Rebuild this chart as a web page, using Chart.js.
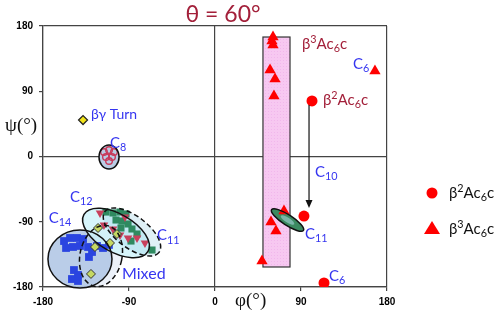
<!DOCTYPE html>
<html><head><meta charset="utf-8">
<script src="https://cdn.jsdelivr.net/npm/chart.js@4/dist/chart.umd.min.js"></script>
<style>html,body{margin:0;padding:0;background:#fff;}</style>
</head><body>
<canvas id="c" width="500" height="312"></canvas>
<script>
// ---- data (phi, psi in degrees) ----
const tickValues = [-180, -90, 0, 90, 180];
const beta2Ac6c = [[101.5, 76.6], [93.1, -82.1], [114.1, -174.5]];
const beta3Ac6c = [[60.7, 164.8], [59.6, 159.3], [60.7, 153.8], [57.6, 119.3], [62.8, 106.9], [61.7, 83.4],
                   [167.4, 117.9], [72.2, -75.2], [58.6, -90.3], [63.8, -102.8], [49.2, -144.1]];
const c14Squares = [[-158, -116.6], [-151.7, -112.4], [-144.4, -112.4], [-138.1, -113.8], [-155.9, -126.2],
                    [-148.6, -124.8], [-141.3, -123.4], [-132.9, -124.8], [-128.7, -131.7], [-131.9, -138.6],
                    [-147.6, -156.6], [-143.4, -163.4], [-149.7, -169], [-143.4, -171.7],
                    [-123.5, -123.4], [-117.2, -126.2], [-111, -122]];
const c11Squares = [[-114.1, -76.6], [-106.7, -77.9], [-99.4, -76.6], [-93.1, -79.3], [-103.6, -87.6],
                    [-97.3, -89], [-91, -93.1], [-86.9, -100], [-98.4, -98.6], [-87.9, -116.6],
                    [-65.9, -129], [-81.6, -106.9]];
const c12Triangles = [[-120.3, -78], [-116.2, -94.5], [-106.7, -100], [-99.4, -108.3], [-91, -112.4],
                      [-81.6, -112.4], [-73.3, -119.3], [-94.2, -83.4]];
const mixedDiamonds = [[-122.4, -98.6], [-102.6, -106.9], [-109.9, -119.3], [-125.6, -124.8], [-129.8, -162]];
const betaGammaTurn = [[-138.1, 50.3]];
const c8Circles = [[-116.2, 6.2], [-110.9, 9], [-105.7, 6.2], [-114.1, -0.7], [-107.8, -0.7], [-110.9, -6.2]];
// regions
const boxPhi = [50.2, 78.5];
const boxPsi = [-152.4, 164.8];
const arrowPhi = 98.4;
const arrowPsi = [71, -71];
const ellipseNames = ['C14', 'Mixed', 'C12', 'C11', 'C8', 'C11b'];
const ellipseCenters = [[-141.3, -141.4], [-119.3, -137.2], [-103.6, -105.5], [-86.9, -104.1], [-110.9, -0.7], [75.9, -87.6]];
const ellipseRadii = [[33.5, 40], [22, 42.8], [38.7, 26.2], [35.5, 22], [10.5, 16.6], [19.9, 7.2]];
const ellipseTilt = [0, 12, 30, 37, 0, 33];

const toPts = a => a.map(p => ({x: p[0], y: p[1]}));

const BLUE = '#3535f0', DRED = '#a3203a';
const ellStyle = {
  C14: {fill: 'rgba(178,200,230,0.9)', dash: false},
  Mixed: {fill: 'rgba(178,200,230,0.25)', dash: true},
  C12: {fill: 'rgba(205,243,250,0.8)', dash: false},
  C11: {fill: 'rgba(150,205,225,0.3)', dash: true},
  C8: {fill: '#b9cde5', dash: false},
  C11b: {fill: '#3b8a60', dash: false}
};

function rich(ctx, x, y, parts, size, color, family) {
  ctx.save();
  ctx.fillStyle = color; ctx.textBaseline = 'middle'; ctx.textAlign = 'left';
  let cx = x;
  for (const p of parts) {
    let fs = size, dy = 0;
    if (p.s === 'sub') { fs = size * 0.72; dy = size * 0.32; }
    if (p.s === 'sup') { fs = size * 0.72; dy = -size * 0.3; }
    ctx.font = fs + 'px ' + family;
    ctx.fillText(p.t, cx, y + dy);
    cx += ctx.measureText(p.t).width;
  }
  ctx.restore();
}
const Csub = n => [{t: 'C'}, {t: n, s: 'sub'}];
const beta2 = [{t: 'β'}, {t: '2', s: 'sup'}, {t: 'Ac'}, {t: '6', s: 'sub'}, {t: 'c'}];
const beta3 = [{t: 'β'}, {t: '3', s: 'sup'}, {t: 'Ac'}, {t: '6', s: 'sub'}, {t: 'c'}];
const labels = [
  {p: [{t: 'βγ Turn'}], phi: -129.8, psi: 58.6, size: 14, color: BLUE},
  {p: Csub('8'), phi: -109.9, psi: 18.6, size: 15, color: BLUE},
  {p: Csub('12'), phi: -151.7, psi: -55.9, size: 15, color: BLUE},
  {p: Csub('14'), phi: -174, psi: -84.8, size: 15, color: BLUE},
  {p: Csub('11'), phi: -60.7, psi: -109, size: 15, color: BLUE},
  {p: [{t: 'Mixed'}], phi: -97.3, psi: -162, size: 16, color: BLUE},
  {p: Csub('10'), phi: 104.6, psi: -21.4, size: 15, color: BLUE},
  {p: Csub('11'), phi: 94.2, psi: -106.9, size: 15, color: BLUE},
  {p: Csub('6'), phi: 119.3, psi: -164.8, size: 15, color: BLUE},
  {p: Csub('6'), phi: 144.4, psi: 127.6, size: 15, color: BLUE},
  {p: beta3, phi: 91, psi: 155.2, size: 15, color: DRED},
  {p: beta2, phi: 113, psi: 77.9, size: 15, color: DRED}
];

function ellPath(ctx, xs, ys, i) {
  const c = ellipseCenters[i], r = ellipseRadii[i];
  const cx = xs.getPixelForValue(c[0]), cy = ys.getPixelForValue(c[1]);
  const rx = Math.abs(xs.getPixelForValue(c[0] + r[0]) - cx);
  const ry = Math.abs(ys.getPixelForValue(c[1] + r[1]) - cy);
  ctx.beginPath();
  ctx.ellipse(cx, cy, rx, ry, ellipseTilt[i] * Math.PI / 180, 0, Math.PI * 2);
}

const deco = {
  id: 'deco',
  beforeDatasetsDraw(chart) {
    const ctx = chart.ctx, xs = chart.scales.x, ys = chart.scales.y;
    ctx.save();
    const x0 = xs.getPixelForValue(boxPhi[0]), x1 = xs.getPixelForValue(boxPhi[1]);
    const y0 = ys.getPixelForValue(boxPsi[1]), y1 = ys.getPixelForValue(boxPsi[0]);
    ctx.fillStyle = '#f7c8f1';
    ctx.fillRect(x0, y0, x1 - x0, y1 - y0);
    ctx.fillStyle = 'rgba(230,150,225,0.35)';
    for (let yy = y0 + 2; yy < y1; yy += 3) for (let xx = x0 + 2; xx < x1; xx += 3) ctx.fillRect(xx, yy, 1, 1);
    ctx.strokeStyle = '#333'; ctx.lineWidth = 1.2;
    ctx.strokeRect(x0, y0, x1 - x0, y1 - y0);
    ellipseNames.forEach((n, i) => {
      ellPath(ctx, xs, ys, i);
      ctx.fillStyle = ellStyle[n].fill;
      ctx.fill();
    });
    ctx.restore();
  },
  afterDatasetsDraw(chart) {
    const ctx = chart.ctx, xs = chart.scales.x, ys = chart.scales.y;
    ctx.save();
    ellipseNames.forEach((n, i) => {
      ellPath(ctx, xs, ys, i);
      ctx.strokeStyle = '#111';
      ctx.lineWidth = 1.5;
      ctx.setLineDash(ellStyle[n].dash ? [5, 3] : []);
      ctx.stroke();
    });
    ctx.setLineDash([]);
    const gi = ellipseNames.indexOf('C11b');
    const c = ellipseCenters[gi];
    const cx = xs.getPixelForValue(c[0]), cy = ys.getPixelForValue(c[1]);
    ctx.beginPath();
    ctx.ellipse(cx, cy, 8, 2.5, ellipseTilt[gi] * Math.PI / 180, 0, Math.PI * 2);
    ctx.fillStyle = 'rgba(150,200,200,0.7)';
    ctx.fill();
    const ax = xs.getPixelForValue(arrowPhi);
    const ay0 = ys.getPixelForValue(arrowPsi[0]), ay1 = ys.getPixelForValue(arrowPsi[1]);
    ctx.strokeStyle = '#111'; ctx.lineWidth = 1.2;
    ctx.beginPath(); ctx.moveTo(ax, ay0); ctx.lineTo(ax, ay1 - 6); ctx.stroke();
    ctx.fillStyle = '#111';
    ctx.beginPath(); ctx.moveTo(ax, ay1); ctx.lineTo(ax - 3.5, ay1 - 8); ctx.lineTo(ax + 3.5, ay1 - 8); ctx.closePath(); ctx.fill();
    labels.forEach(l => rich(ctx, xs.getPixelForValue(l.phi), ys.getPixelForValue(l.psi), l.p, l.size, l.color, 'Lato, "Open Sans", sans-serif'));
    ctx.restore();
  },
  afterDraw(chart) {
    const ctx = chart.ctx;
    ctx.save();
    ctx.fillStyle = '#a3203a';
    ctx.font = '23px Lato, "Open Sans", sans-serif';
    ctx.textAlign = 'center'; ctx.textBaseline = 'middle';
    ctx.fillText('θ = 60°', 223, 15);
    ctx.fillStyle = '#111';
    ctx.font = '19px "Liberation Serif", "DejaVu Serif", serif';
    ctx.textAlign = 'left';
    ctx.fillText('ψ(°)', 5, 126);
    ctx.fillText('φ(°)', 235, 301);
    ctx.fillStyle = '#ff0000';
    ctx.beginPath(); ctx.arc(432, 193, 5.5, 0, Math.PI * 2); ctx.fill();
    ctx.beginPath(); ctx.moveTo(432, 221); ctx.lineTo(440, 234); ctx.lineTo(424, 234); ctx.closePath(); ctx.fill();
    ctx.restore();
    rich(ctx, 449, 193, beta2, 15, '#111', 'Lato, "Open Sans", sans-serif');
    rich(ctx, 449, 229, beta3, 15, '#111', 'Lato, "Open Sans", sans-serif');
  }
};

const gridColor = c => (c.tick && (c.tick.value === 0 || Math.abs(c.tick.value) === 180)) ? '#444' : 'rgba(0,0,0,0)';
const tickFont = {family: 'Arial, "Liberation Sans", sans-serif', size: 10, weight: 'bold'};

new Chart(document.getElementById('c'), {
  type: 'scatter',
  data: {
    datasets: [
      {label: 'β2Ac6c', data: toPts(beta2Ac6c), pointStyle: 'circle', pointRadius: 5.5, backgroundColor: '#ff0000', borderColor: '#ff0000', borderWidth: 0, order: 1},
      {label: 'β3Ac6c', data: toPts(beta3Ac6c), pointStyle: 'triangle', pointRadius: 6.5, backgroundColor: '#ff0000', borderColor: '#ff0000', borderWidth: 0, order: 2},
      {label: 'mixed', data: toPts(mixedDiamonds), pointStyle: 'rectRot', pointRadius: 4.5, backgroundColor: '#c5d862', borderColor: '#333', borderWidth: 1, order: 3},
      {label: 'c12', data: toPts(c12Triangles), pointStyle: 'triangle', rotation: 180, pointRadius: 5, backgroundColor: '#c8405c', borderColor: '#c8405c', borderWidth: 0, order: 4},
      {label: 'c11', data: toPts(c11Squares), pointStyle: 'rect', pointRadius: 5, backgroundColor: '#2f8a60', borderColor: '#2f8a60', borderWidth: 0, order: 5},
      {label: 'c14', data: toPts(c14Squares), pointStyle: 'rect', pointRadius: 5.5, backgroundColor: '#2a44e0', borderColor: '#2a44e0', borderWidth: 0, order: 6},
      {label: 'bg', data: toPts(betaGammaTurn), pointStyle: 'rectRot', pointRadius: 4.5, backgroundColor: '#f2e41a', borderColor: '#222', borderWidth: 1.2, order: 7},
      {label: 'c8', data: toPts(c8Circles), pointStyle: 'circle', pointRadius: 3.3, backgroundColor: 'rgba(0,0,0,0)', borderColor: '#c83a5a', borderWidth: 1.4, order: 8}
    ]
  },
  options: {
    responsive: false,
    animation: false,
    layout: {padding: {top: 26, right: 113, left: 0, bottom: 0}},
    plugins: {legend: {display: false}, tooltip: {enabled: false}, title: {display: false}},
    scales: {
      x: {
        type: 'linear', min: -180, max: 180,
        afterBuildTicks: s => { s.ticks = tickValues.map(v => ({value: v})); },
        afterFit: s => { s.height = 25; },
        ticks: {font: tickFont, color: '#000', padding: 5, maxRotation: 0},
        grid: {color: gridColor, tickColor: '#444', tickLength: 4, lineWidth: 1.2},
        border: {display: true, color: '#444', width: 1.2}
      },
      y: {
        type: 'linear', min: -180, max: 180,
        afterBuildTicks: s => { s.ticks = tickValues.map(v => ({value: v})); },
        afterFit: s => { s.width = 43; },
        ticks: {font: tickFont, color: '#000', padding: 6},
        grid: {color: gridColor, tickColor: '#444', tickLength: 4, lineWidth: 1.2},
        border: {display: true, color: '#444', width: 1.2}
      }
    }
  },
  plugins: [deco]
});
</script>
</body></html>
